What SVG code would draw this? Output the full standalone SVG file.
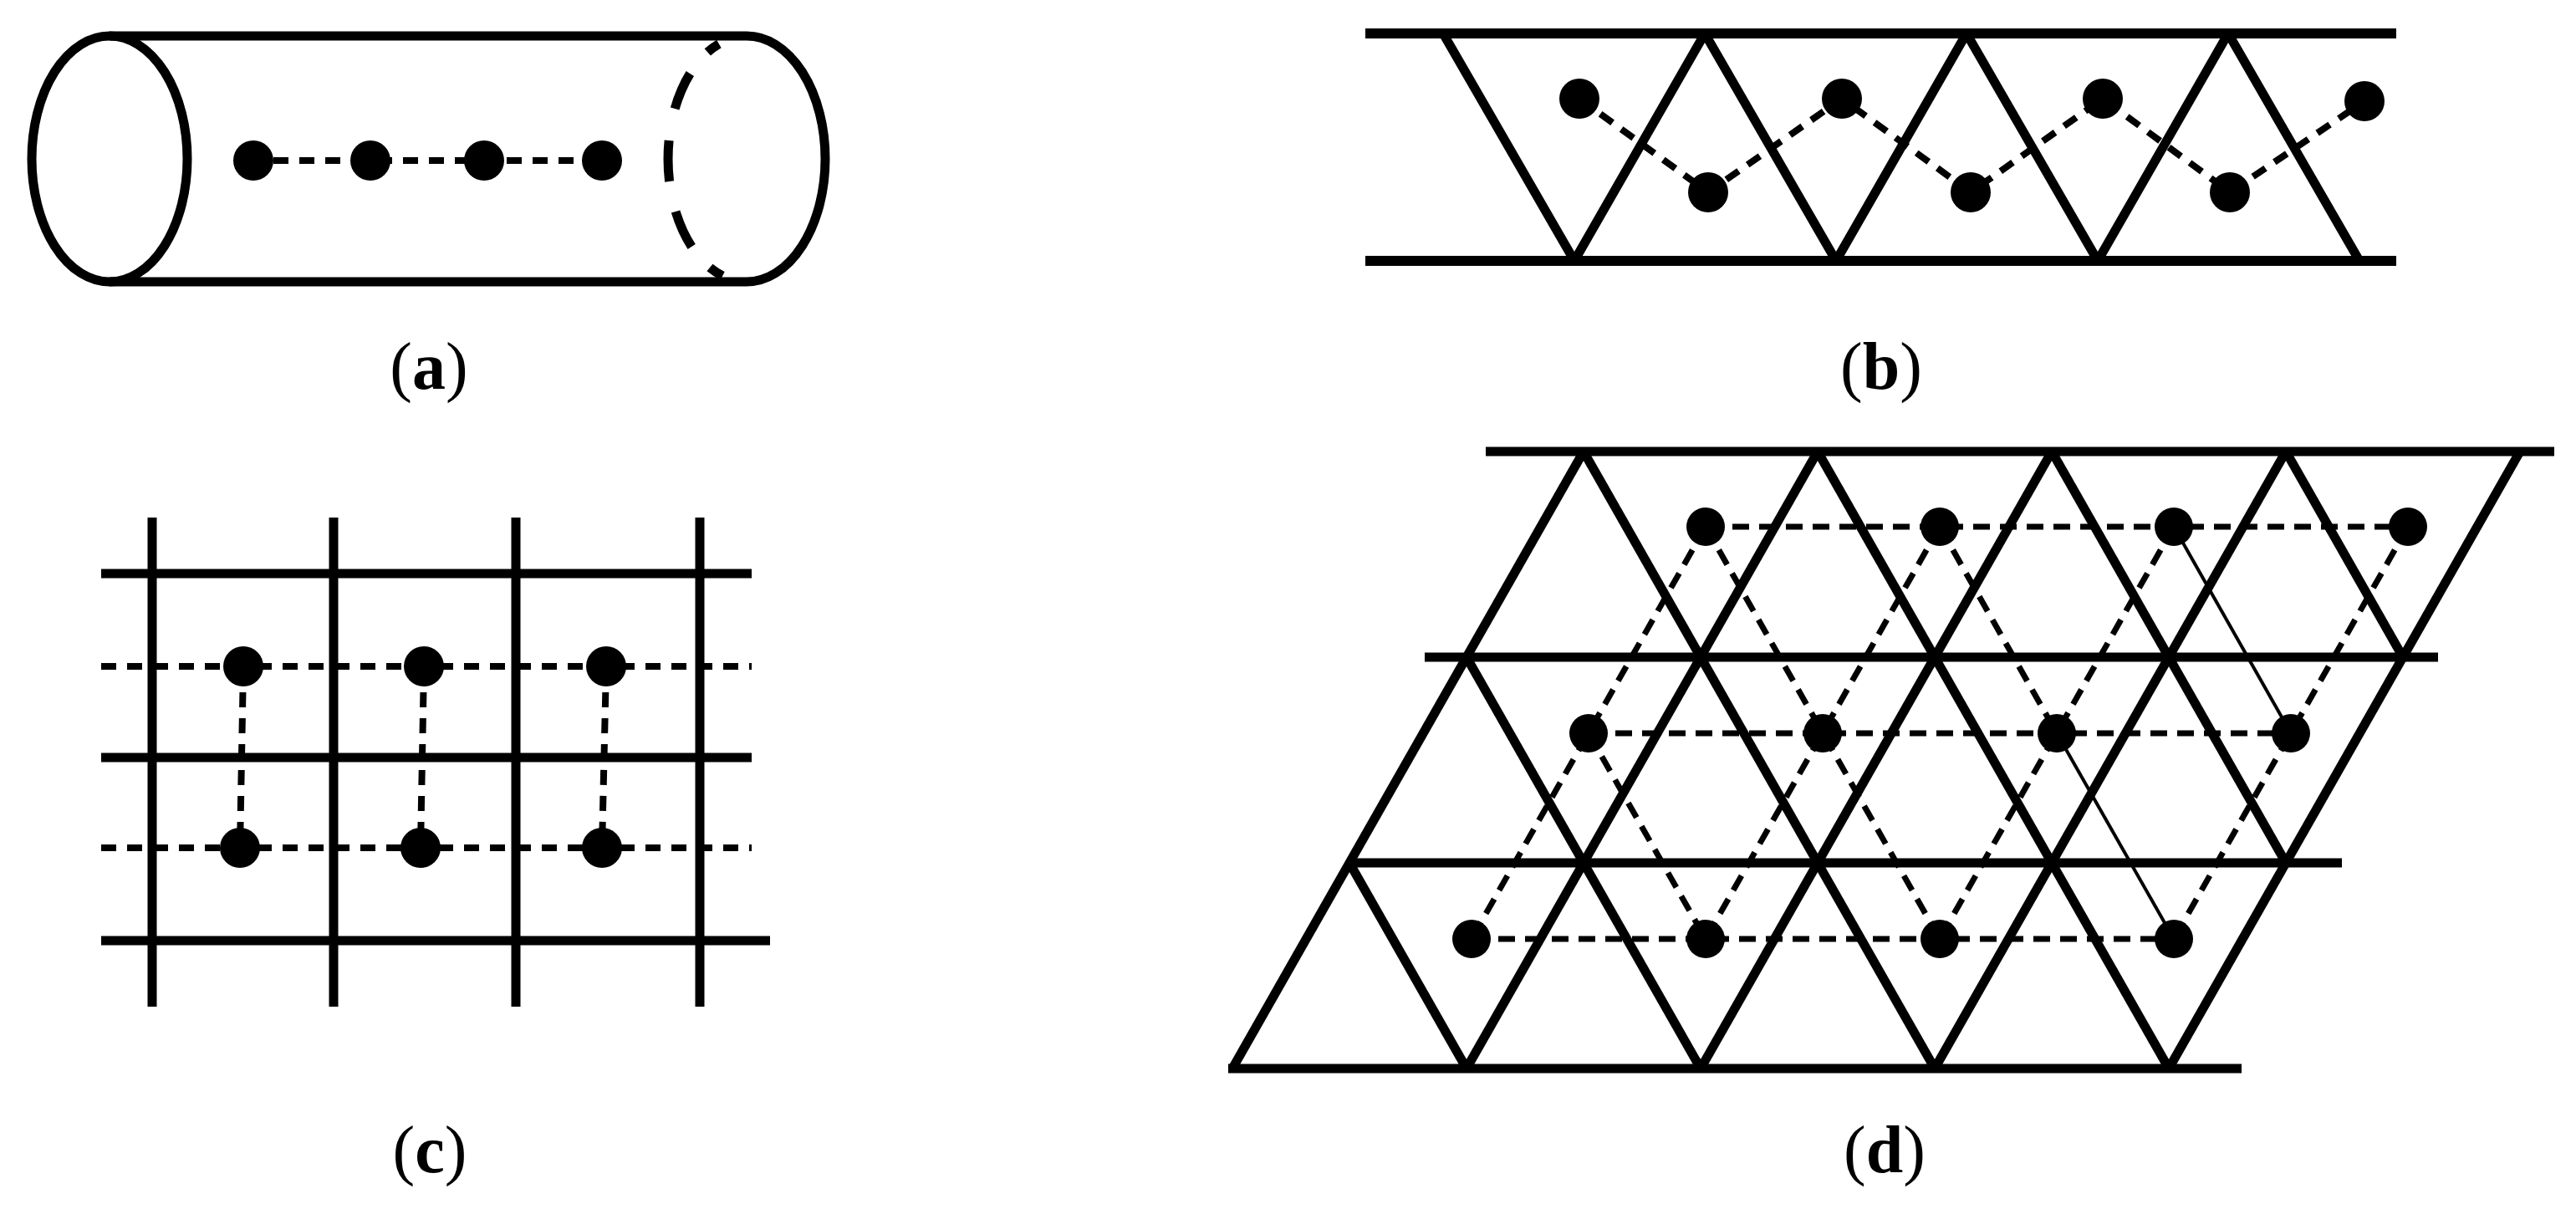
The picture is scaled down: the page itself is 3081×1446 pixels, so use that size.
<svg xmlns="http://www.w3.org/2000/svg" width="3081" height="1446" viewBox="0 0 3081 1446">
<style>
.solid{stroke:#000;stroke-width:11;fill:none;stroke-linejoin:round}
.thick{stroke:#000;stroke-width:12;fill:none}
.dash{stroke:#000;stroke-width:8;fill:none;stroke-dasharray:18 13}
.dashd{stroke:#000;stroke-width:7;fill:none;stroke-dasharray:20 12}
.thin{stroke:#000;stroke-width:4;fill:none}
.dot{fill:#000}
.lbl{font-family:"Liberation Serif","Times New Roman",serif;font-size:80px;text-anchor:middle;fill:#000}
</style>
<rect width="3081" height="1446" fill="#fff"/>

<!-- Panel (a) -->
<g id="panel-a">
  <ellipse class="solid" cx="131" cy="190" rx="93" ry="147"/>
  <path class="solid" d="M131 43 H893 A94 147 0 0 1 893 337 H131"/>
  <path class="solid" stroke-width="9" d="M859.9 52.4 A94 147 0 0 0 846.3 62.4 M825.3 88 A94 147 0 0 0 807.2 130 M800.1 168 A94 147 0 0 0 800.6 217 M808.1 253 A94 147 0 0 0 827.2 295 M849 320 A94 147 0 0 0 864.2 330"/>
  <g id="a-connectors">
    <line class="dash" x1="327" y1="192" x2="696" y2="192"/>
  </g>
  <g id="a-n1"><circle class="dot" cx="303" cy="192" r="24"/></g>
  <g id="a-n2"><circle class="dot" cx="443" cy="192" r="24"/></g>
  <g id="a-n3"><circle class="dot" cx="579" cy="192" r="24"/></g>
  <g id="a-n4"><circle class="dot" cx="720" cy="192" r="24"/></g>
  <text class="lbl" x="513" y="465">(<tspan font-weight="bold">a</tspan>)</text>
</g>

<!-- Panel (b) -->
<g id="panel-b">
  <line class="thick" x1="1633" y1="40" x2="2866" y2="40"/>
  <line class="thick" x1="1633" y1="312" x2="2866" y2="312"/>
  <polyline class="solid" stroke-width="10" points="1726,40 1883,312 2039,40 2196,312 2352,40 2509,312 2665,40 2822,312"/>
  <g id="b-connectors">
    <polyline class="dash" points="1889,118 2043,230 2203,118 2357,230 2515,118 2667,230 2828,121"/>
  </g>
  <g id="b-n1"><circle class="dot" cx="1889" cy="118" r="24"/></g>
  <g id="b-n2"><circle class="dot" cx="2043" cy="230" r="24"/></g>
  <g id="b-n3"><circle class="dot" cx="2203" cy="118" r="24"/></g>
  <g id="b-n4"><circle class="dot" cx="2357" cy="230" r="24"/></g>
  <g id="b-n5"><circle class="dot" cx="2515" cy="118" r="24"/></g>
  <g id="b-n6"><circle class="dot" cx="2667" cy="230" r="24"/></g>
  <g id="b-n7"><circle class="dot" cx="2828" cy="121" r="24"/></g>
  <text class="lbl" x="2250" y="465">(<tspan font-weight="bold">b</tspan>)</text>
</g>

<!-- Panel (c) -->
<g id="panel-c">
  <g class="solid">
    <line x1="182" y1="619" x2="182" y2="1204"/>
    <line x1="399" y1="619" x2="399" y2="1204"/>
    <line x1="617" y1="619" x2="617" y2="1204"/>
    <line x1="837" y1="619" x2="837" y2="1204"/>
    <line x1="121" y1="686" x2="899" y2="686"/>
    <line x1="121" y1="906" x2="899" y2="906"/>
    <line x1="121" y1="1125" x2="921" y2="1125"/>
  </g>
  <g id="c-connectors" class="dash">
    <line x1="121" y1="797" x2="899" y2="797"/>
    <line x1="121" y1="1014" x2="899" y2="1014"/>
    <line x1="291" y1="797" x2="287" y2="1014"/>
    <line x1="507" y1="797" x2="503" y2="1014"/>
    <line x1="725" y1="797" x2="720" y2="1014"/>
  </g>
  <g id="c-n1"><circle class="dot" cx="291" cy="797" r="24"/></g>
  <g id="c-n2"><circle class="dot" cx="507" cy="797" r="24"/></g>
  <g id="c-n3"><circle class="dot" cx="725" cy="797" r="24"/></g>
  <g id="c-n4"><circle class="dot" cx="287" cy="1014" r="24"/></g>
  <g id="c-n5"><circle class="dot" cx="503" cy="1014" r="24"/></g>
  <g id="c-n6"><circle class="dot" cx="720" cy="1014" r="24"/></g>
  <text class="lbl" x="514" y="1402">(<tspan font-weight="bold">c</tspan>)</text>
</g>

<!-- Panel (d) -->
<g id="panel-d">
  <g class="solid" stroke-width="10">
    <line x1="1777" y1="540" x2="3055" y2="540" stroke-width="11"/>
    <line x1="1704" y1="786" x2="2916" y2="786" stroke-width="11"/>
    <line x1="1612" y1="1032" x2="2801" y2="1032" stroke-width="11"/>
    <line x1="1469" y1="1278" x2="2681" y2="1278" stroke-width="11"/>
    <line x1="1894" y1="540" x2="1474" y2="1278"/>
    <line x1="2174" y1="540" x2="1754" y2="1278"/>
    <line x1="2454" y1="540" x2="2034" y2="1278"/>
    <line x1="2734" y1="540" x2="2314" y2="1278"/>
    <line x1="3014" y1="540" x2="2594" y2="1278"/>
    <line x1="1614" y1="1032" x2="1754" y2="1278"/>
    <line x1="1754" y1="786" x2="2034" y2="1278"/>
    <line x1="1894" y1="540" x2="2314" y2="1278"/>
    <line x1="2174" y1="540" x2="2594" y2="1278"/>
    <line x1="2454" y1="540" x2="2734" y2="1032"/>
    <line x1="2734" y1="540" x2="2874" y2="786"/>
  </g>
  <g id="d-connectors">
    <g class="dashd">
      <line x1="2040" y1="630" x2="2880" y2="630"/>
      <line x1="1900" y1="877" x2="2740" y2="877"/>
      <line x1="1760" y1="1123" x2="2600" y2="1123"/>
      <line x1="2040" y1="630" x2="1760" y2="1123"/>
      <line x1="2320" y1="630" x2="2040" y2="1123"/>
      <line x1="2600" y1="630" x2="2320" y2="1123"/>
      <line x1="2880" y1="630" x2="2600" y2="1123"/>
      <line x1="2040" y1="630" x2="2320" y2="1123"/>
      <line x1="2320" y1="630" x2="2460" y2="877"/>
      <line x1="1900" y1="877" x2="2040" y2="1123"/>
    </g>
    <g class="thin">
      <line x1="2600" y1="630" x2="2740" y2="877"/>
      <line x1="2460" y1="877" x2="2600" y2="1123"/>
    </g>
  </g>
  <g id="d-a0"><circle class="dot" cx="2040" cy="630" r="23"/></g>
  <g id="d-a1"><circle class="dot" cx="2320" cy="630" r="23"/></g>
  <g id="d-a2"><circle class="dot" cx="2600" cy="630" r="23"/></g>
  <g id="d-a3"><circle class="dot" cx="2880" cy="630" r="23"/></g>
  <g id="d-b0"><circle class="dot" cx="1900" cy="877" r="23"/></g>
  <g id="d-b1"><circle class="dot" cx="2180" cy="877" r="23"/></g>
  <g id="d-b2"><circle class="dot" cx="2460" cy="877" r="23"/></g>
  <g id="d-b3"><circle class="dot" cx="2740" cy="877" r="23"/></g>
  <g id="d-c0"><circle class="dot" cx="1760" cy="1123" r="23"/></g>
  <g id="d-c1"><circle class="dot" cx="2040" cy="1123" r="23"/></g>
  <g id="d-c2"><circle class="dot" cx="2320" cy="1123" r="23"/></g>
  <g id="d-c3"><circle class="dot" cx="2600" cy="1123" r="23"/></g>
  <text class="lbl" x="2254" y="1402">(<tspan font-weight="bold">d</tspan>)</text>
</g>
</svg>
